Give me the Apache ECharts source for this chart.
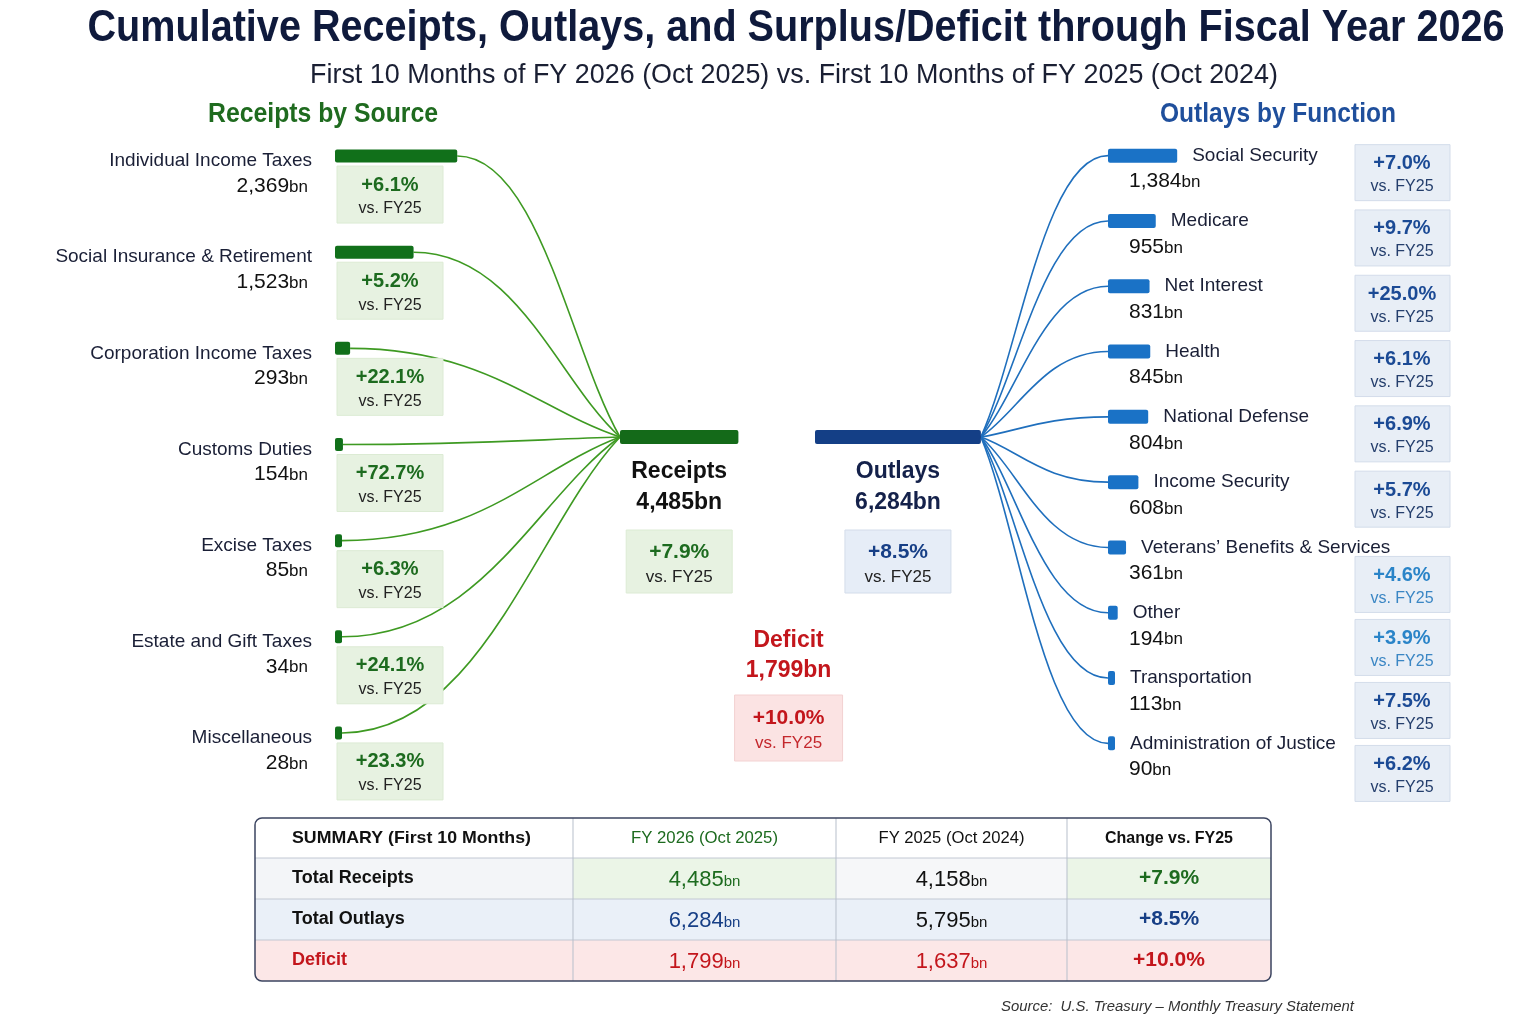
<!DOCTYPE html>
<html><head><meta charset="utf-8">
<script src="https://cdn.jsdelivr.net/npm/echarts@6/dist/echarts.min.js"></script>
<style>html,body{margin:0;padding:0;background:#fff}#c{width:1536px;height:1024px}</style>
</head><body><div id="c"></div>
<script>
// ---------- DATA ----------
const receiptSources = ['Individual Income Taxes','Social Insurance & Retirement','Corporation Income Taxes','Customs Duties','Excise Taxes','Estate and Gift Taxes','Miscellaneous'];
const receiptValues = [2369,1523,293,154,85,34,28];
const receiptChange = [6.1,5.2,22.1,72.7,6.3,24.1,23.3];
const outlayFunctions = ['Social Security','Medicare','Net Interest','Health','National Defense','Income Security','Veterans\u2019 Benefits & Services','Other','Transportation','Administration of Justice'];
const outlayValues = [1384,955,831,845,804,608,361,194,113,90];
const outlayChange = [7.0,9.7,25.0,6.1,6.9,5.7,4.6,3.9,7.5,6.2];
const summaryHeaders = ['SUMMARY (First 10 Months)','FY 2026 (Oct 2025)','FY 2025 (Oct 2024)','Change vs. FY25'];
const summaryRows = ['Total Receipts','Total Outlays','Deficit'];
const summaryFY26 = [4485,6284,1799];
const summaryFY25 = [4158,5795,1637];
const summaryChange = [7.9,8.5,10.0];

// ---------- STYLE ----------
const GREEN = '#1d6b1f', NAVY = '#173f86', RED = '#c3161c', TEXT = '#1a1f36';
const F = '"Liberation Sans", Arial, sans-serif';
const fmt = v => v.toLocaleString('en-US');
const pct = v => '+' + v.toFixed(1) + '%';

const chart = echarts.init(document.getElementById('c'), null, {width:1536, height:1024});
const option = {
  backgroundColor: '#ffffff',
  animation: false,
  grid: [
    {left:335, top:108, width:258, height:673},
    {left:1108, top:123, width:120, height:653},
    {left:620, top:430, width:264, height:14},
    {left:815, top:430, width:264, height:14}
  ],
  xAxis: [
    {gridIndex:0, type:'value', min:0, max:5000, show:false},
    {gridIndex:1, type:'value', min:0, max:2400, show:false},
    {gridIndex:2, type:'value', min:0, max:10000, show:false},
    {gridIndex:3, type:'value', min:0, max:10000, show:false}
  ],
  yAxis: [
    {gridIndex:0, type:'category', data:receiptSources, inverse:true, show:false},
    {gridIndex:1, type:'category', data:outlayFunctions, inverse:true, show:false},
    {gridIndex:2, type:'category', data:['Receipts'], show:false},
    {gridIndex:3, type:'category', data:['Outlays'], show:false}
  ],
  series: [
    {type:'bar', xAxisIndex:0, yAxisIndex:0, data:receiptValues, barWidth:13, barMinHeight:7, silent:true, z:3,
     itemStyle:{color:'#11701a', borderRadius:2}},
    {type:'bar', xAxisIndex:1, yAxisIndex:1, data:outlayValues, barWidth:14, barMinHeight:7, silent:true, z:3,
     itemStyle:{color:'#1a72c6', borderRadius:2}},
    {type:'bar', xAxisIndex:2, yAxisIndex:2, data:[summaryFY26[0]], barWidth:14, silent:true, z:3,
     itemStyle:{color:'#146a19', borderRadius:2}},
    {type:'bar', xAxisIndex:3, yAxisIndex:3, data:[summaryFY26[1]], barWidth:14, silent:true, z:3,
     itemStyle:{color:'#143f86', borderRadius:2}}
  ]
};
chart.setOption(option);

// ---------- ANNOTATIONS (anchored via the axes' scales) ----------
const G = [];
const mctx = document.createElement('canvas').getContext('2d');
function measure(text, font) { mctx.font = font; return mctx.measureText(text).width; }
function T(x, y, text, font, fill, align, rich, fitW) {
  const sx = fitW ? fitW / measure(text, font) : 1;
  const s = {x:0, y:0, text:text, font:font, fill:fill, textAlign:align||'left', textVerticalAlign:'middle', align:align||'left', verticalAlign:'middle'};
  if (rich) s.rich = rich;
  G.push({type:'text', silent:true, z:10, x:x, y:y, scaleX:sx, style:s});
}
function R(x, y, w, h, fill, stroke, r, z) {
  G.push({type:'rect', silent:true, z:z||2, shape:{x:x, y:y, width:w, height:h, r:r||0},
    style:{fill:fill, stroke:stroke||null, lineWidth:stroke?1:0}});
}
function valRich(size, usize, color, weight) {
  return {
    v:{fontSize:size, fontFamily:F, fill:color, fontWeight:weight||'normal', verticalAlign:'bottom'},
    u:{fontSize:usize, fontFamily:F, fill:color, fontWeight:weight||'normal', verticalAlign:'bottom', padding:[0,0,1,0]}
  };
}
const px = (g, v, c) => chart.convertToPixel({gridIndex:g}, [v, c]);
const MINBAR = 7;

const rNode = px(2, 0, 0), rNodeEnd = px(2, summaryFY26[0], 0);
const oNode = px(3, 0, 0), oNodeEnd = px(3, summaryFY26[1], 0);

// Left: receipts by source
receiptSources.forEach((name, i) => {
  const s = px(0, 0, i), e = px(0, receiptValues[i], i);
  const yc = s[1], ex = Math.max(e[0], s[0] + MINBAR);
  const x0 = ex, y0 = yc, x1 = rNode[0], y1 = rNode[1], dx = x1 - x0;
  G.push({type:'bezierCurve', silent:true, z:1,
    shape:{x1:x0, y1:y0, cpx1:x0 + 0.5*dx, cpy1:y0, cpx2:x1 - 0.3*dx, cpy2:y1 + 0.3*(y0 - y1), x2:x1, y2:y1},
    style:{stroke:'#3e9a22', lineWidth:1.6, fill:null}});
  T(s[0] - 23, yc + 5, name, '19px ' + F, TEXT, 'right');
  T(s[0] - 27, yc + 30, '{v|' + fmt(receiptValues[i]) + '}{u|bn}', '21px ' + F, '#111', 'right', valRich(21, 17, '#111'));
  R(s[0] + 2, yc + 10, 106, 57, '#e7f2e1', '#dcebd4');
  T(s[0] + 55, yc + 29, pct(receiptChange[i]), 'bold 20px ' + F, GREEN, 'center');
  T(s[0] + 55, yc + 53, 'vs. FY25', '16px ' + F, '#222', 'center');
});

// Right: outlays by function
const labFont = '19px ' + F;
let prevBottom = -1e9;
outlayFunctions.forEach((name, i) => {
  const s = px(1, 0, i), e = px(1, outlayValues[i], i);
  const yc = s[1], ex = Math.max(e[0], s[0] + MINBAR);
  const x0 = oNodeEnd[0], y0 = oNodeEnd[1], x1 = s[0], y1 = yc, dx = x1 - x0;
  G.push({type:'bezierCurve', silent:true, z:1,
    shape:{x1:x0, y1:y0, cpx1:x0 + 0.3*dx, cpy1:y0 + 0.3*(y1 - y0), cpx2:x1 - 0.5*dx, cpy2:y1, x2:x1, y2:y1},
    style:{stroke:'#1f6fbd', lineWidth:1.6, fill:null}});
  const lx = ex + 15;
  T(lx, yc, name, labFont, TEXT, 'left');
  T(s[0] + 21, yc + 26, '{v|' + fmt(outlayValues[i]) + '}{u|bn}', '21px ' + F, '#111', 'left', valRich(21, 17, '#111'));
  const bx = s[0] + 247;
  let top = yc - 11;
  if (lx + measure(name, labFont) > bx - 2) top = yc + 9;
  top = Math.max(top, prevBottom + 7);
  prevBottom = top + 56;
  R(bx, top, 95, 56, '#e8eef6', '#d3dcea');
  const pc = outlayChange[i] < 5 ? '#2a84c8' : '#1b4a95';
  T(bx + 47, top + 19, pct(outlayChange[i]), 'bold 20px ' + F, pc, 'center');
  T(bx + 47, top + 42, 'vs. FY25', '16px ' + F, outlayChange[i] < 5 ? '#3a86c4' : '#243e6c', 'center');
});

// Centre: totals
const rc = (rNode[0] + rNodeEnd[0]) / 2, oc = (oNode[0] + oNodeEnd[0]) / 2, dc = (rc + oc) / 2;
const ny = rNode[1];
T(rc, ny + 35, 'Receipts', 'bold 23px ' + F, '#111', 'center');
T(rc, ny + 66, fmt(summaryFY26[0]) + 'bn', 'bold 23px ' + F, '#111', 'center');
R(rc - 53, ny + 93, 106, 63, '#e7f2e1', '#dcebd4');
T(rc, ny + 115, pct(summaryChange[0]), 'bold 21px ' + F, GREEN, 'center');
T(rc, ny + 140, 'vs. FY25', '17px ' + F, '#222', 'center');

T(oc, ny + 35, 'Outlays', 'bold 23px ' + F, '#14214a', 'center');
T(oc, ny + 66, fmt(summaryFY26[1]) + 'bn', 'bold 23px ' + F, '#14214a', 'center');
R(oc - 53, ny + 93, 106, 63, '#e6edf7', '#d3dcea');
T(oc, ny + 115, pct(summaryChange[1]), 'bold 21px ' + F, NAVY, 'center');
T(oc, ny + 140, 'vs. FY25', '17px ' + F, '#222', 'center');

T(dc, ny + 204, 'Deficit', 'bold 23px ' + F, RED, 'center');
T(dc, ny + 234, fmt(summaryFY26[2]) + 'bn', 'bold 23px ' + F, RED, 'center');
R(dc - 54, ny + 258, 108, 66, '#fbe3e3', '#f3d2d2');
T(dc, ny + 281, pct(summaryChange[2]), 'bold 21px ' + F, RED, 'center');
T(dc, ny + 306, 'vs. FY25', '17px ' + F, '#c4282d', 'center');

// Titles (condensed by horizontal scaling)
T(796, 29, 'Cumulative Receipts, Outlays, and Surplus/Deficit through Fiscal Year 2026', 'bold 44px ' + F, '#0f1a3c', 'center', null, 1417);
T(794, 75, 'First 10 Months of FY 2026 (Oct 2025) vs. First 10 Months of FY 2025 (Oct 2024)', '28px ' + F, '#1a1f33', 'center', null, 968);
T(323, 115, 'Receipts by Source', 'bold 27px ' + F, '#1f6b1f', 'center', null, 230);
T(1278, 115, 'Outlays by Function', 'bold 27px ' + F, '#1f4f9c', 'center', null, 236);

// Summary table
const tX = 255, tY = 818, colW = [318, 263, 231, 204], rowH = [40, 41, 41, 41];
const fills = [
  ['#ffffff','#ffffff','#ffffff','#ffffff'],
  ['#f3f5f8','#ebf5e7','#f6f7f9','#ebf5e7'],
  ['#eaf0f8','#eaf0f8','#eaf0f8','#eaf0f8'],
  ['#fce7e7','#fce7e7','#fce7e7','#fce7e7']
];
const colX = [tX]; colW.forEach(w => colX.push(colX[colX.length-1] + w));
const rowY = [tY]; rowH.forEach(h => rowY.push(rowY[rowY.length-1] + h));
const tW = colX[4] - tX, tH = rowY[4] - tY;
for (let r = 0; r < 4; r++) for (let c = 0; c < 4; c++) {
  let rad = 0;
  if (r === 0 && c === 0) rad = [7,0,0,0];
  if (r === 0 && c === 3) rad = [0,7,0,0];
  if (r === 3 && c === 0) rad = [0,0,0,7];
  if (r === 3 && c === 3) rad = [0,0,7,0];
  R(colX[c], rowY[r], colW[c], rowH[r], fills[r][c], null, rad, 2);
}
for (let r = 1; r < 4; r++) G.push({type:'line', silent:true, z:3, shape:{x1:tX, y1:rowY[r], x2:colX[4], y2:rowY[r]}, style:{stroke:'#c2c8d3', lineWidth:1}});
for (let c = 1; c < 4; c++) G.push({type:'line', silent:true, z:3, shape:{x1:colX[c], y1:tY, x2:colX[c], y2:rowY[4]}, style:{stroke:'#b7bfcb', lineWidth:1}});
G.push({type:'rect', silent:true, z:4, shape:{x:tX, y:tY, width:tW, height:tH, r:7}, style:{fill:null, stroke:'#3b4460', lineWidth:1.5}});

const cc = c => (colX[c] + colX[c+1]) / 2;
const rc2 = r => (rowY[r] + rowY[r+1]) / 2;
T(tX + 37, rc2(0), summaryHeaders[0], 'bold 17px ' + F, '#111', 'left', null, 239);
T(cc(1), rc2(0), summaryHeaders[1], '17px ' + F, GREEN, 'center', null, 147);
T(cc(2), rc2(0), summaryHeaders[2], '17px ' + F, '#111', 'center', null, 146);
T(cc(3), rc2(0), summaryHeaders[3], 'bold 17px ' + F, '#111', 'center', null, 128);
const rowCol = [GREEN, NAVY, RED];
summaryRows.forEach((name, i) => {
  const y = rc2(i + 1);
  T(tX + 37, y, name, 'bold 18px ' + F, i === 2 ? RED : '#111', 'left');
  T(cc(1), y + 1, '{v|' + fmt(summaryFY26[i]) + '}{u|bn}', '22px ' + F, rowCol[i], 'center', valRich(22, 15, rowCol[i]));
  T(cc(2), y + 1, '{v|' + fmt(summaryFY25[i]) + '}{u|bn}', '22px ' + F, i === 2 ? RED : '#111', 'center', valRich(22, 15, i === 2 ? RED : '#111'));
  T(cc(3), y, pct(summaryChange[i]), 'bold 21px ' + F, rowCol[i], 'center');
});

T(1354, 1007, 'Source:  U.S. Treasury \u2013 Monthly Treasury Statement', 'italic 15px ' + F, '#333', 'right', null, 353);

chart.setOption({graphic:{elements:G}});
</script>
</body></html>
